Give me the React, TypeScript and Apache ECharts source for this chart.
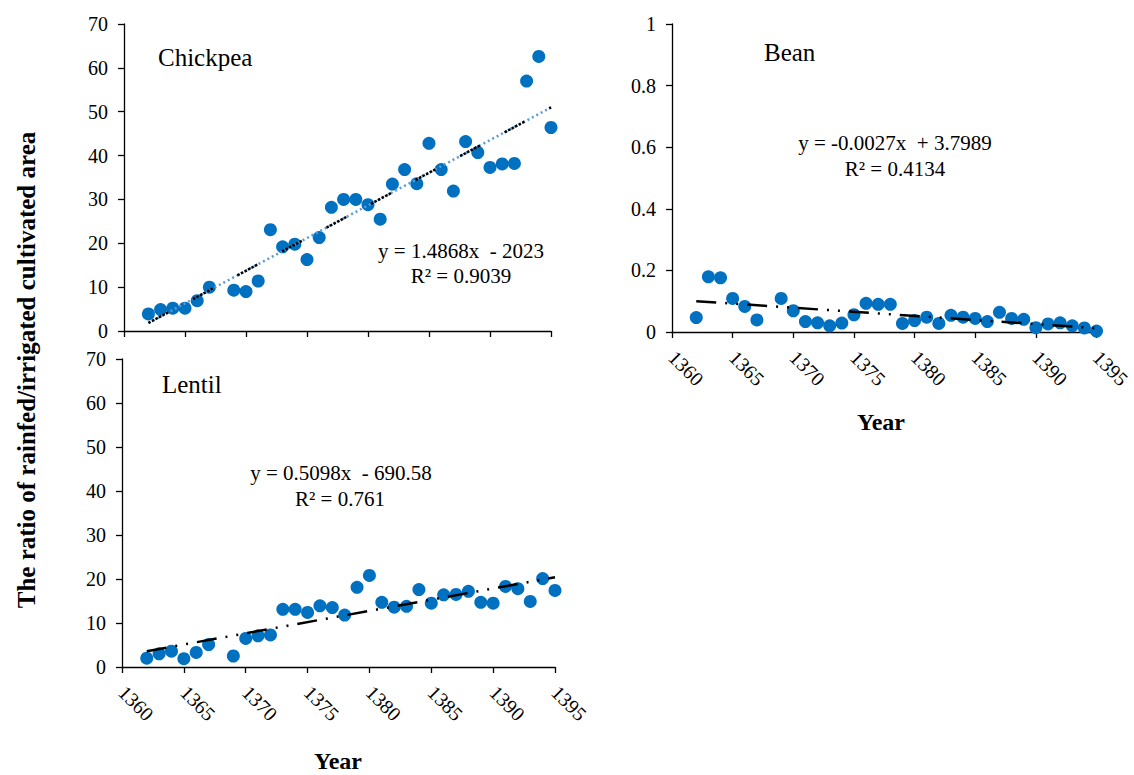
import { useEffect, useRef } from "react";
import * as echarts from "echarts";

// years on record (1368 missing in every series)
const YEARS = [
  1362, 1363, 1364, 1365, 1366, 1367, 1369, 1370, 1371, 1372, 1373, 1374, 1375,
  1376, 1377, 1378, 1379, 1380, 1381, 1382, 1383, 1384, 1385, 1386, 1387, 1388,
  1389, 1390, 1391, 1392, 1393, 1394, 1395,
];

const CHICKPEA = [
  3.9, 4.9, 5.2, 5.2, 6.9, 10.0, 9.3, 9.0, 11.4, 23.1, 19.2, 19.8, 16.3, 21.3,
  28.2, 30.0, 30.0, 28.8, 25.5, 33.5, 36.8, 33.6, 42.8, 36.8, 31.9, 43.2, 40.7,
  37.3, 38.1, 38.2, 57.0, 62.6, 46.4,
];

const BEAN = [
  0.047, 0.179, 0.176, 0.109, 0.083, 0.039, 0.109, 0.069, 0.034, 0.03, 0.02,
  0.029, 0.056, 0.093, 0.09, 0.09, 0.028, 0.037, 0.048, 0.028, 0.054, 0.048,
  0.044, 0.034, 0.064, 0.044, 0.041, 0.014, 0.026, 0.03, 0.02, 0.013, 0.003,
];

const LENTIL = [
  2.0, 3.0, 3.6, 1.9, 3.3, 5.1, 2.5, 6.5, 7.1, 7.3, 13.1, 13.1, 12.4, 13.9,
  13.5, 11.8, 18.1, 20.8, 14.7, 13.6, 13.8, 17.6, 14.5, 16.4, 16.5, 17.2, 14.7,
  14.5, 18.3, 17.8, 14.9, 20.1, 17.4,
];

const CROPS = ["Chickpea", "Bean", "Lentil"];
const EQUATIONS = [
  ["y = 1.4868x  - 2023", "R² = 0.9039"],
  ["y = -0.0027x  + 3.7989", "R² = 0.4134"],
  ["y = 0.5098x  - 690.58", "R² = 0.761"],
];

const FONT = "Liberation Serif";
const MARKER = "#0070C0";

function fitLine(xs: number[], ys: number[]): number[][] {
  const n = xs.length;
  const mx = xs.reduce((a, b) => a + b, 0) / n;
  const my = ys.reduce((a, b) => a + b, 0) / n;
  let sxy = 0;
  let sxx = 0;
  for (let i = 0; i < n; i++) {
    sxy += (xs[i] - mx) * (ys[i] - my);
    sxx += (xs[i] - mx) * (xs[i] - mx);
  }
  const slope = sxy / sxx;
  const x0 = xs[0];
  const x1 = xs[n - 1];
  return [
    [x0, my + slope * (x0 - mx)],
    [x1, my + slope * (x1 - mx)],
  ];
}

function pairs(ys: number[]): number[][] {
  return YEARS.map((y, i) => [y, ys[i]]);
}

function xAxisOf(gridIndex: number, showLabels: boolean) {
  return {
    type: "value",
    gridIndex,
    min: 1360,
    max: 1395,
    interval: 5,
    splitLine: { show: false },
    axisLine: { onZero: false, lineStyle: { color: "#000", width: 1.3 } },
    axisTick: { show: true, length: 6, lineStyle: { color: "#000", width: 1.3 } },
    axisLabel: {
      show: showLabels,
      rotate: -45,
      margin: 22,
      fontSize: 20,
      color: "#000",
      fontFamily: FONT,
      formatter: (v: number) => String(v),
    },
  };
}

function yAxisOf(gridIndex: number, max: number, interval: number) {
  return {
    type: "value",
    gridIndex,
    min: 0,
    max,
    interval,
    splitLine: { show: false },
    axisLine: { show: true, lineStyle: { color: "#000", width: 1.3 } },
    axisTick: { show: true, length: 6, lineStyle: { color: "#000", width: 1.3 } },
    axisLabel: {
      margin: 16,
      fontSize: 20,
      color: "#000",
      fontFamily: FONT,
      formatter: (v: number) => String(v),
    },
  };
}

function textEl(
  text: string,
  x: number,
  y: number,
  size: number,
  align: string,
  bold = false,
  rotation = 0,
) {
  return {
    type: "text",
    x,
    y,
    rotation,
    style: {
      text,
      fill: "#000",
      fontSize: size,
      fontFamily: FONT,
      fontWeight: bold ? "bold" : "normal",
      align,
      verticalAlign: "middle",
    },
  };
}

const dashDotDot = [20, 9, 2, 9, 2, 9];

function scatterOf(index: number, values: number[]) {
  return {
    type: "scatter",
    xAxisIndex: index,
    yAxisIndex: index,
    data: pairs(values),
    symbolSize: 13,
    itemStyle: { color: MARKER, opacity: 1 },
  };
}

export default function App() {
  const ref = useRef<HTMLDivElement | null>(null);

  useEffect(() => {
    document.body.style.margin = "0";
    const el = ref.current;
    if (!el) return;
    const chart = echarts.init(el, null, { renderer: "svg" });

    const option = {
      animation: false,
      backgroundColor: "#fff",
      textStyle: { fontFamily: FONT },
      grid: [
        { left: 124, top: 24, width: 427, height: 307 },
        { left: 672, top: 24, width: 425, height: 308 },
        { left: 122, top: 359, width: 433, height: 308 },
      ],
      xAxis: [xAxisOf(0, false), xAxisOf(1, true), xAxisOf(2, true)],
      yAxis: [yAxisOf(0, 70, 10), yAxisOf(1, 1, 0.2), yAxisOf(2, 70, 10)],
      series: [
        scatterOf(0, CHICKPEA),
        scatterOf(1, BEAN),
        scatterOf(2, LENTIL),
        // chickpea trend: blue dotted under a black dotted-dash
        {
          type: "line",
          xAxisIndex: 0,
          yAxisIndex: 0,
          data: fitLine(YEARS, CHICKPEA),
          symbol: "none",
          lineStyle: { color: "#5B9BD5", width: 2.5, type: [2, 3] },
        },
        {
          type: "line",
          xAxisIndex: 0,
          yAxisIndex: 0,
          data: fitLine(YEARS, CHICKPEA),
          symbol: "none",
          lineStyle: {
            color: "#000",
            width: 2.5,
            type: [2.5, 1.5, 2.5, 1.5, 2.5, 1.5, 2.5, 1.5, 2.5, 1.5, 2.5, 28],
          },
        },
        {
          type: "line",
          xAxisIndex: 1,
          yAxisIndex: 1,
          data: fitLine(YEARS, BEAN),
          symbol: "none",
          lineStyle: { color: "#000", width: 2.5, type: dashDotDot },
        },
        {
          type: "line",
          xAxisIndex: 2,
          yAxisIndex: 2,
          data: fitLine(YEARS, LENTIL),
          symbol: "none",
          lineStyle: { color: "#000", width: 2.5, type: dashDotDot },
        },
      ],
      graphic: [
        textEl(
          "The ratio of rainfed/irrigated cultivated area",
          26,
          370,
          25,
          "center",
          true,
          Math.PI / 2,
        ),
        textEl(CROPS[0], 158, 57, 25, "left"),
        textEl(CROPS[1], 764, 52, 25, "left"),
        textEl(CROPS[2], 162, 384, 25, "left"),
        textEl(EQUATIONS[0][0], 461, 251, 21, "center"),
        textEl(EQUATIONS[0][1], 461, 276, 21, "center"),
        textEl(EQUATIONS[1][0], 895, 143, 21, "center"),
        textEl(EQUATIONS[1][1], 895, 169, 21, "center"),
        textEl(EQUATIONS[2][0], 341, 473, 21, "center"),
        textEl(EQUATIONS[2][1], 340, 499, 21, "center"),
        textEl("Year", 881, 422, 24, "center", true),
        textEl("Year", 338, 761, 24, "center", true),
      ],
    };

    chart.setOption(option as any);
    return () => chart.dispose();
  }, []);

  return <div ref={ref} style={{ width: 1134, height: 775 }} />;
}
